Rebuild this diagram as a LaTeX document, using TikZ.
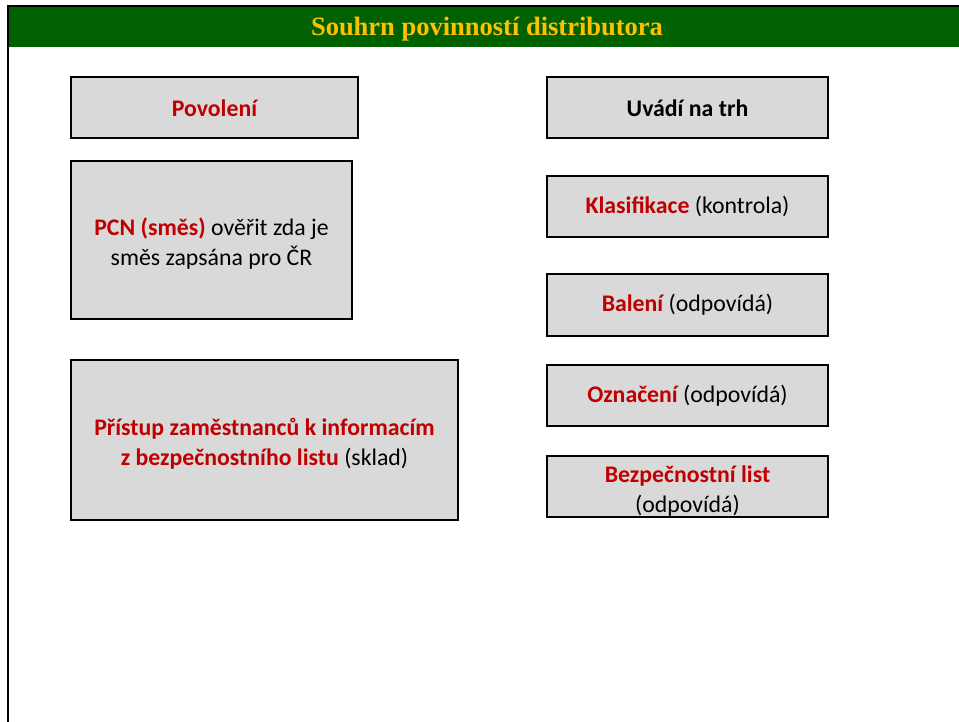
\documentclass[tikz,border=0pt]{standalone}
\usepackage{fontspec}
\setmainfont{Carlito}
\newfontfamily\titlefont{Liberation Serif}
\definecolor{hdrgreen}{HTML}{006100}
\definecolor{hdrgold}{HTML}{FFC000}
\definecolor{boxgray}{HTML}{D9D9D9}
\definecolor{redtxt}{HTML}{C00000}
\newcommand{\rt}[1]{\textcolor{redtxt}{\bfseries #1}}
\newcommand{\topstrut}{\rule{0pt}{25pt}}
\begin{document}
\begin{tikzpicture}[x=1pt,y=-1pt,
  box/.style={draw=black, line width=2pt, fill=boxgray, align=center,
    font=\fontsize{23.8}{30}\selectfont, inner sep=0pt}]
\useasboundingbox (0,0) rectangle (959,722);
\fill[hdrgreen] (8,6) rectangle (970,47);
\draw[line width=2.5pt] (8,740) -- (8,6) -- (970,6);
\node[font=\titlefont\bfseries\fontsize{26.5}{30}\selectfont, text=hdrgold] (title) at (487,29) {Souhrn povinností distributora};
\node[box, minimum width=287pt, minimum height=61pt] (pov) at (214.5,108) {\rt{Povolení}};
\node[box, minimum width=281pt, minimum height=158pt] (pcn) at (211.5,240) {\topstrut\rt{PCN (směs)} ověřit zda je\\směs zapsána pro ČR};
\node[box, minimum width=387pt, minimum height=160pt] (pri) at (264.5,440) {\topstrut\rt{Přístup zaměstnanců k informacím}\\\rt{z bezpečnostního listu} (sklad)};
\node[box, minimum width=281pt, minimum height=61pt] (uva) at (687.5,108) {\bfseries Uvádí na trh};
\node[box, minimum width=281pt, minimum height=61pt] (kla) at (687.5,206.5) {\rt{Klasifikace} (kontrola)};
\node[box, minimum width=281pt, minimum height=61pt] (bal) at (687.5,305) {\rt{Balení} (odpovídá)};
\node[box, minimum width=281pt, minimum height=61pt] (ozn) at (687.5,395.5) {\rt{Označení} (odpovídá)};
\node[box, minimum width=281pt, minimum height=61pt] (bez) at (687.5,486.5) {\topstrut\rt{Bezpečnostní list}\\(odpovídá)};
\end{tikzpicture}
\end{document}
